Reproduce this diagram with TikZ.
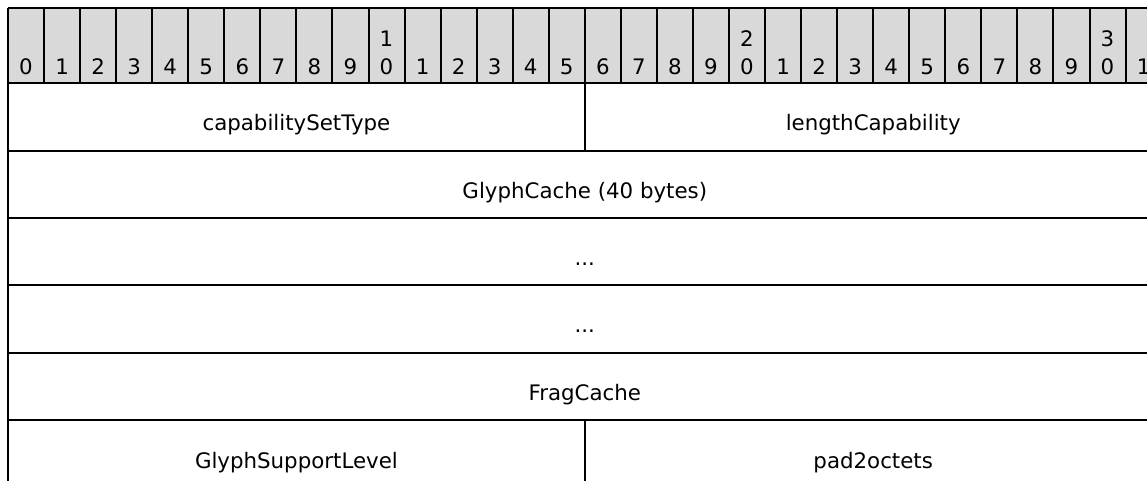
\documentclass[tikz,border=0pt]{standalone}
\usepackage{fontspec}
\setmainfont{DejaVu Sans}
\definecolor{hgray}{HTML}{D9D9D9}
\begin{document}
\begin{tikzpicture}[x=0.75pt,y=-0.75pt,line width=1.5pt,
  lbl/.style={anchor=base,inner sep=0pt,font=\fontsize{16}{19}\selectfont},
  rule/.style={draw=black,line width=1.5pt}]
\useasboundingbox (0,0) rectangle (1147,481);
\clip (0,0) rectangle (1147,481);
\def\cw{36.05}
% header background
\fill[hgray] (8,8.5) rectangle (1161.6,83.3);
% header column lines
\foreach \i in {0,...,32} \draw[rule] ({8+\i*\cw},8.5) -- ({8+\i*\cw},83.3);
% horizontal rules
\foreach \yy in {8.5,83.3,150.7,218,285.5,352.5,420} \draw[rule] (8,\yy) -- (1161.6,\yy);
% outer verticals
\draw[rule] (8,83.3) -- (8,487.5);
\draw[rule] (1161.6,83.3) -- (1161.6,487.5);
% field dividers
\draw[rule] (584.8,83.3) -- (584.8,150.7);
\draw[rule] (584.8,420) -- (584.8,487.5);
% header digits
\foreach \i in {0,...,31} {
  \pgfmathtruncatemacro\ones{mod(\i,10)}
  \node[lbl] (h\i) at ({8+(\i+0.5)*\cw},75) {\ones};
}
\node[lbl] (t10) at ({8+10.5*\cw},47) {1};
\node[lbl] (t20) at ({8+20.5*\cw},47) {2};
\node[lbl] (t30) at ({8+30.5*\cw},47) {3};
% fields
\node[lbl] (capabilitySetType) at (296.4,131) {capabilitySetType};
\node[lbl] (lengthCapability) at (873.2,131) {lengthCapability};
\node[lbl] (GlyphCache) at (584.8,198.5) {GlyphCache (40 bytes)};
\node[lbl] (dotsA) at (584.8,266) {...};
\node[lbl] (dotsB) at (584.8,333) {...};
\node[lbl] (FragCache) at (584.8,400.5) {FragCache};
\node[lbl] (GlyphSupportLevel) at (296.4,468) {GlyphSupportLevel};
\node[lbl] (pad2octets) at (873.2,468) {pad2octets};
\end{tikzpicture}
\end{document}
